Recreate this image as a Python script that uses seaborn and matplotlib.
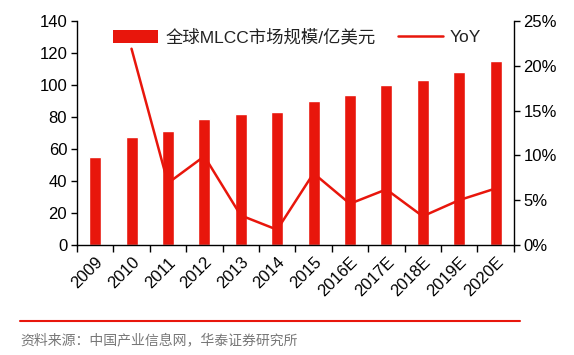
import matplotlib
matplotlib.use("Agg")
import matplotlib.pyplot as plt
import seaborn as sns
import numpy as np
import pandas as pd
from matplotlib.patches import Patch
from matplotlib.lines import Line2D

years = ["2009", "2010", "2011", "2012", "2013", "2014", "2015",
         "2016E", "2017E", "2018E", "2019E", "2020E"]
market = [55.2, 67.3, 71.4, 79.0, 81.7, 82.9, 90.0, 93.8, 100.0, 102.9, 108.1, 114.8]
yoy = [np.nan, 21.9, 6.9, 9.9, 3.3, 1.7, 8.0, 4.6, 6.2, 3.2, 5.0, 6.3]
bar_label = "全球MLCC市场规模/亿美元"
line_label = "YoY"
source = "资料来源：中国产业信息网，华泰证券研究所"

RED = "#E8160C"
sns.set_theme(style="white")
plt.rcParams['font.family'] = ['Liberation Sans', 'Noto Sans CJK SC', 'DejaVu Sans']

fig = plt.figure(figsize=(5.74, 3.55), dpi=100)
ax = fig.add_axes([0.134, 0.31, 0.761, 0.631])

df = pd.DataFrame({"year": years, "market": market, "yoy": yoy,
                   "pos": np.arange(len(years))})
sns.barplot(data=df, x="year", y="market", color=RED, saturation=1,
            width=0.33, ax=ax)
ax.set_ylim(0, 140)
ax.set_xlim(-0.5, len(years) - 0.5)
ax.set_yticks(range(0, 141, 20))
ax.set_xlabel("")
ax.set_ylabel("")

ax2 = ax.twinx()
sns.lineplot(data=df, x="pos", y="yoy", color=RED, linewidth=1.8, ax=ax2)
ax2.set_ylim(0, 25)
ax2.set_yticks(range(0, 26, 5))
ax2.set_yticklabels([f"{v}%" for v in range(0, 26, 5)])
ax2.set_ylabel("")
ax2.set_xlabel("")
ax2.set_xlim(-0.5, len(years) - 0.5)

for a in (ax, ax2):
    a.spines["top"].set_visible(False)
    a.tick_params(labelsize=12, colors="black", length=4, width=1)
ax.spines["right"].set_visible(False)
ax2.spines["left"].set_visible(False)
ax2.spines["bottom"].set_visible(False)
for a in (ax, ax2):
    for s in a.spines.values():
        s.set_color("black")
        s.set_linewidth(1)
ax.tick_params(axis="y", left=True, direction="out", pad=3)
ax2.tick_params(axis="y", right=True, direction="out", pad=3)

# x ticks: marks between categories, labels at centers
ax.set_xticks(np.arange(len(years)))
ax.set_xticklabels(years, rotation=45, ha="right", rotation_mode="anchor", fontsize=12)
ax.tick_params(axis="x", bottom=False, pad=3)
ax.set_xticks(np.arange(-0.5, len(years)), minor=True)
ax.tick_params(axis="x", which="minor", bottom=True, length=5, width=1, direction="out", color="black")

handles = [Patch(facecolor=RED, edgecolor="none", label=bar_label),
           Line2D([0], [0], color=RED, lw=1.8, label=line_label)]
leg = ax2.legend(handles=handles, loc="upper left", bbox_to_anchor=(0.047, 1.035), ncol=2,
                 frameon=False, fontsize=12.5, handlelength=2.6, handleheight=0.75,
                 columnspacing=1.3, handletextpad=0.4)
for t in leg.get_texts():
    t.set_family(['Liberation Sans', 'Noto Sans CJK SC'])
    t.set_color("#222222")

fig.add_artist(Line2D([0.035, 0.906], [0.097, 0.097], color=RED, lw=1.5,
                      transform=fig.transFigure))
fig.text(0.035, 0.042, source, fontsize=10, color="#777777",
         family=['Noto Sans CJK SC', 'DejaVu Sans'], va="center")

fig.savefig("out.png", dpi=100)
